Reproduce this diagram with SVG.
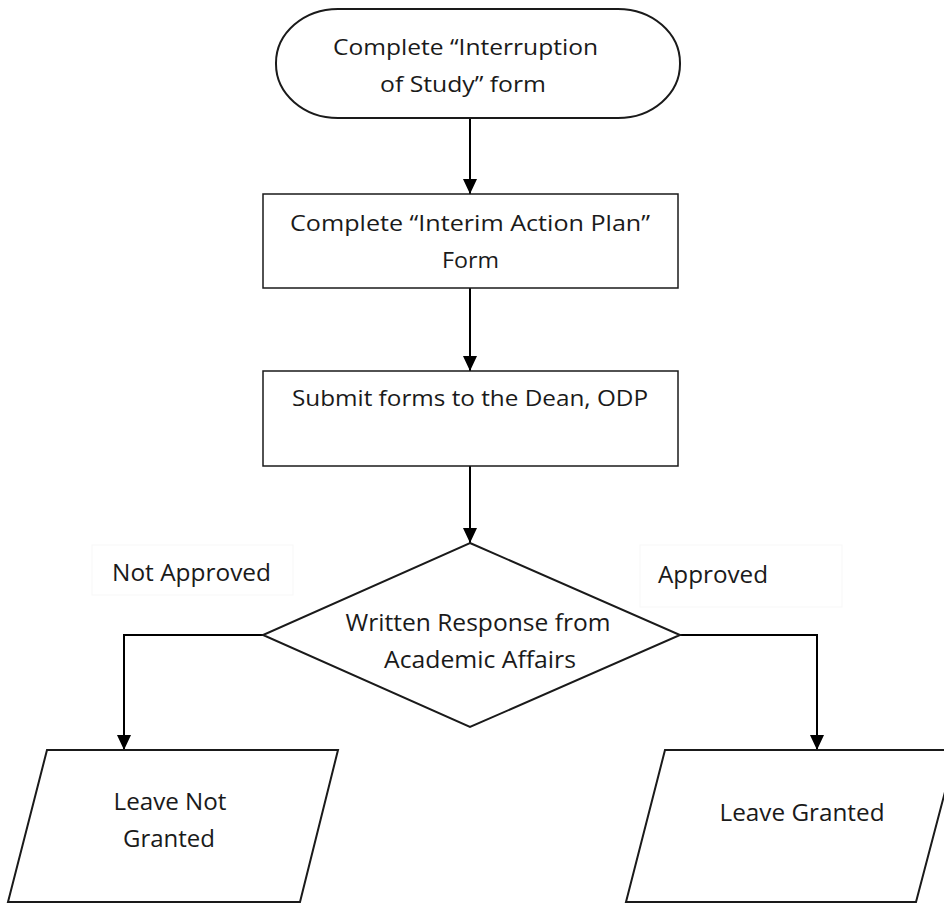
<svg xmlns="http://www.w3.org/2000/svg" width="944" height="905" viewBox="0 0 944 905">
<style>
  .shape { fill: #ffffff; stroke: #1a1a1a; stroke-width: 2; }
  .conn { fill: none; stroke: #000000; stroke-width: 2; }
  .t { font-family: "Open Sans", "Liberation Sans", sans-serif; font-size: 21px; fill: #1a1a1a; text-anchor: middle; }
  .tc { font-size: 23px; }
  .lblbox { fill: #ffffff; stroke: #f7f7f7; stroke-width: 1; }
</style>
<defs>
  <marker id="arrow" markerUnits="userSpaceOnUse" markerWidth="16" markerHeight="16" viewBox="0 0 16 16" refX="15" refY="8" orient="auto">
    <path d="M0,1 L15,8 L0,15 Z" fill="#000000"/>
  </marker>
</defs>
<rect width="944" height="905" fill="#ffffff"/>

<g id="label-not-approved">
  <rect class="lblbox" x="92" y="545" width="201" height="50"/>
  <text class="t tc" x="191.5" y="581" textLength="159" lengthAdjust="spacingAndGlyphs">Not Approved</text>
</g>
<g id="label-approved">
  <rect class="lblbox" x="640" y="545" width="202" height="62"/>
  <text class="t tc" x="713" y="583" textLength="110" lengthAdjust="spacingAndGlyphs">Approved</text>
</g>

<g id="connectors">
  <line class="conn" x1="470" y1="118" x2="470" y2="194" marker-end="url(#arrow)"/>
  <line class="conn" x1="470" y1="288" x2="470" y2="371" marker-end="url(#arrow)"/>
  <line class="conn" x1="470" y1="466" x2="470" y2="543" marker-end="url(#arrow)"/>
  <polyline class="conn" points="263,635 124,635 124,750" marker-end="url(#arrow)"/>
  <polyline class="conn" points="680,635 817,635 817,750" marker-end="url(#arrow)"/>
</g>

<g id="start">
  <rect class="shape" x="276" y="9" width="404" height="109" rx="62" ry="54"/>
  <text class="t" x="465.5" y="55" textLength="265" lengthAdjust="spacingAndGlyphs">Complete “Interruption</text>
  <text class="t" x="463" y="92" textLength="166" lengthAdjust="spacingAndGlyphs">of Study” form</text>
</g>

<g id="interim">
  <rect class="shape" x="263" y="194" width="415" height="94" style="stroke-width:1.5"/>
  <text class="t" x="470" y="231" textLength="360" lengthAdjust="spacingAndGlyphs">Complete “Interim Action Plan”</text>
  <text class="t" x="470.5" y="268" textLength="57" lengthAdjust="spacingAndGlyphs">Form</text>
</g>

<g id="submit">
  <rect class="shape" x="263" y="371" width="415" height="95" style="stroke-width:1.5"/>
  <text class="t" x="470" y="406" textLength="356" lengthAdjust="spacingAndGlyphs">Submit forms to the Dean, ODP</text>
</g>

<g id="decision">
  <polygon class="shape" points="470,543 680,635 470,727 263,635"/>
  <text class="t tc" x="478" y="631" textLength="265" lengthAdjust="spacingAndGlyphs">Written Response from</text>
  <text class="t tc" x="480" y="668" textLength="192" lengthAdjust="spacingAndGlyphs">Academic Affairs</text>
</g>

<g id="not-granted">
  <polygon class="shape" points="47,750 338,750 300,902 8,902"/>
  <text class="t tc" x="170" y="810" textLength="113" lengthAdjust="spacingAndGlyphs">Leave Not</text>
  <text class="t tc" x="169" y="847" textLength="92" lengthAdjust="spacingAndGlyphs">Granted</text>
</g>

<g id="granted">
  <polygon class="shape" points="665,750 956,750 916,902 626,902"/>
  <text class="t tc" x="802" y="821" textLength="165" lengthAdjust="spacingAndGlyphs">Leave Granted</text>
</g>
</svg>
